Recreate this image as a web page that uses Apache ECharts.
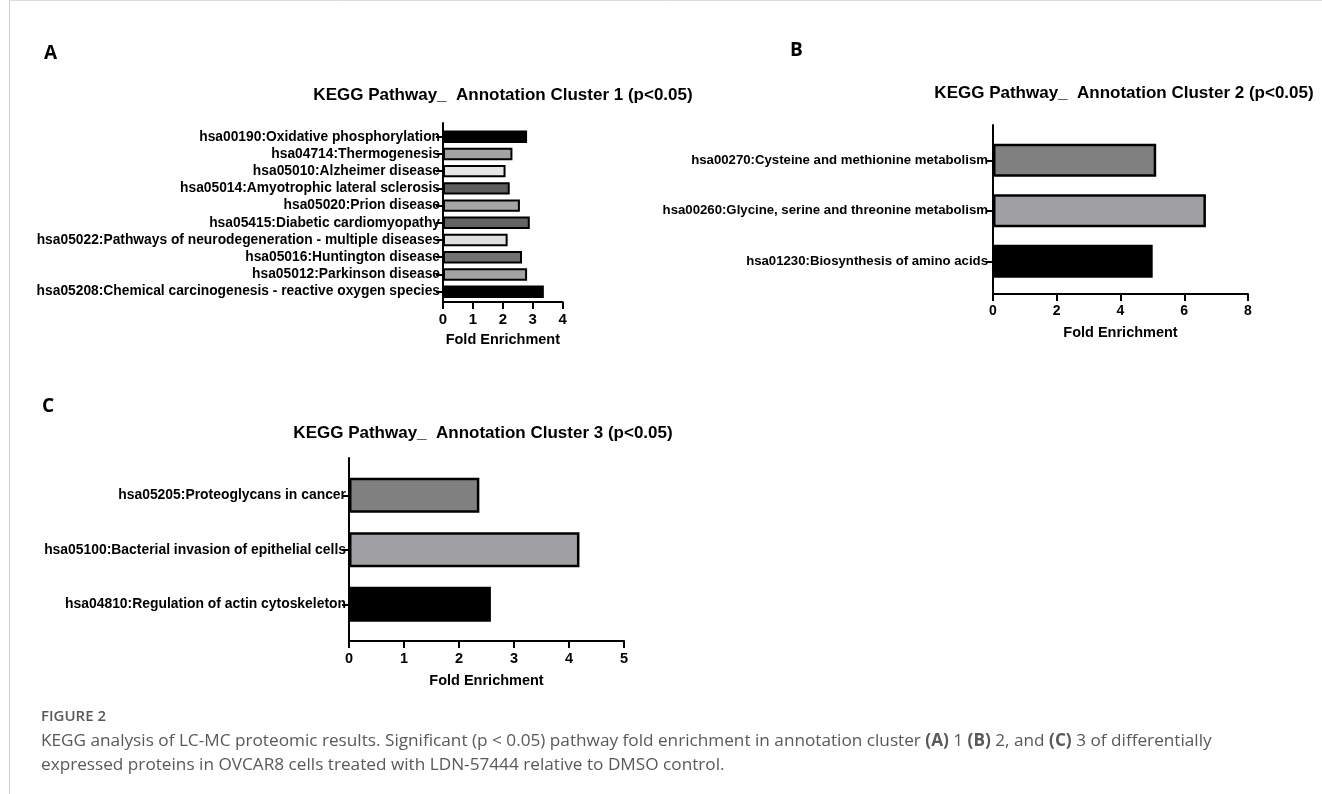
<!DOCTYPE html>
<html><head><meta charset="utf-8">
<script src="https://cdn.jsdelivr.net/npm/echarts@6/dist/echarts.min.js"></script>
<style>html,body{margin:0;padding:0;background:#fff}#c{width:1322px;height:794px}</style>
</head><body><div id="c"></div>
<script>
// ---- data ----
const catsA = ['hsa00190:Oxidative phosphorylation', 'hsa04714:Thermogenesis', 'hsa05010:Alzheimer disease', 'hsa05014:Amyotrophic lateral sclerosis', 'hsa05020:Prion disease', 'hsa05415:Diabetic cardiomyopathy', 'hsa05022:Pathways of neurodegeneration - multiple diseases', 'hsa05016:Huntington disease', 'hsa05012:Parkinson disease', 'hsa05208:Chemical carcinogenesis - reactive oxygen species'];
const valsA = [2.81, 2.32, 2.09, 2.23, 2.57, 2.90, 2.16, 2.64, 2.81, 3.37];
const catsB = ['hsa00270:Cysteine and methionine metabolism', 'hsa00260:Glycine, serine and threonine metabolism', 'hsa01230:Biosynthesis of amino acids'];
const valsB = [5.12, 6.68, 5.01];
const catsC = ['hsa05205:Proteoglycans in cancer', 'hsa05100:Bacterial invasion of epithelial cells', 'hsa04810:Regulation of actin cytoskeleton'];
const valsC = [2.37, 4.19, 2.58];
const ticksA = [0, 1, 2, 3, 4];
const ticksB = [0, 2, 4, 6, 8];
const ticksC = [0, 1, 2, 3, 4, 5];
const titles = ['KEGG Pathway_  Annotation Cluster 1 (p<0.05)', 'KEGG Pathway_  Annotation Cluster 2 (p<0.05)', 'KEGG Pathway_  Annotation Cluster 3 (p<0.05)'];
const axisName = 'Fold Enrichment';
// ---- styles ----
const fillsA = ['#000000', '#a3a3a3', '#e6e6e6', '#5e5e5e', '#a6a6a6', '#636363', '#e0e0e0', '#727272', '#a3a3a3', '#000000'];
const fillsB = ['#808080', '#a0a0a4', '#000000'];
const fillsC = ['#808080', '#a0a0a4', '#000000'];

const F = "'Liberation Sans', Arial, Helvetica, sans-serif";
const FO = "'Open Sans', 'Noto Sans', sans-serif";

const panels = [
  {cats: catsA, vals: valsA, ticks: ticksA, fills: fillsA, frame: {left: 443, top: 123, width: 119.7, height: 179}, bars: {top: 128.1, height: 172.2},
   gap: '28%', labSize: 13.8, tickSize: 15, bw: 2, nameGap: 30, labMargin: 3},
  {cats: catsB, vals: valsB, ticks: ticksB, fills: fillsB, frame: {left: 993, top: 125, width: 255, height: 169}, bars: {top: 135, height: 151.5},
   gap: '35%', labSize: 13.2, tickSize: 14, bw: 2.5, nameGap: 31, labMargin: 5},
  {cats: catsC, vals: valsC, ticks: ticksC, fills: fillsC, frame: {left: 349, top: 458, width: 275, height: 183}, bars: {top: 468, height: 163.5},
   gap: '36%', labSize: 13.9, tickSize: 14.5, bw: 2.5, nameGap: 32, labMargin: 3}
];

const grid = [], xAxis = [], yAxis = [], series = [];
const line = {show: true, onZero: false, lineStyle: {color: '#000', width: 2}};
panels.forEach((p, i) => {
  const mn = p.ticks[0], mx = p.ticks[p.ticks.length - 1], iv = p.ticks[1] - p.ticks[0];
  grid.push({left: p.frame.left, top: p.frame.top, width: p.frame.width, height: p.frame.height, containLabel: false});
  grid.push({left: p.frame.left, top: p.bars.top, width: p.frame.width, height: p.bars.height, containLabel: false});
  const g0 = i * 2, g1 = i * 2 + 1;
  xAxis.push({type: 'value', gridIndex: g0, min: mn, max: mx, interval: iv, axisLine: line,
    axisTick: {show: true, length: 7, lineStyle: {color: '#000', width: 2}},
    axisLabel: {color: '#000', fontFamily: F, fontWeight: 'bold', fontSize: p.tickSize, margin: 10},
    splitLine: {show: false}, name: axisName, nameLocation: 'middle', nameGap: p.nameGap,
    nameTextStyle: {color: '#000', fontFamily: F, fontWeight: 'bold', fontSize: 14.5}});
  xAxis.push({type: 'value', gridIndex: g1, min: mn, max: mx, show: false});
  yAxis.push({type: 'value', gridIndex: g0, min: 0, max: 1, axisLine: line, axisTick: {show: false}, axisLabel: {show: false}, splitLine: {show: false}});
  yAxis.push({type: 'category', gridIndex: g1, data: p.cats, inverse: true, axisLine: {show: false},
    axisTick: {show: true, alignWithLabel: true, interval: 0, length: 7, lineStyle: {color: '#000', width: 2}},
    axisLabel: {interval: 0, color: '#000', fontFamily: F, fontWeight: 'bold', fontSize: p.labSize, margin: p.labMargin}});
  series.push({type: 'bar', xAxisIndex: g1, yAxisIndex: g1, data: p.vals, barCategoryGap: p.gap,
    itemStyle: {color: (d) => p.fills[d.dataIndex], borderColor: '#000', borderWidth: p.bw}});
});

const titleCenters = [[503, 95], [1124, 93], [483, 433]];
const graphic = [
  {type: 'line', shape: {x1: 9.5, y1: 0, x2: 9.5, y2: 794}, style: {stroke: '#cfcfcf', lineWidth: 1}},
  {type: 'line', shape: {x1: 9.5, y1: 0.5, x2: 1322, y2: 0.5}, style: {stroke: '#dcdcdc', lineWidth: 1}},
  {type: 'text', x: 44, y: 54, style: {text: 'A', font: 'bold 19px ' + FO, fill: '#000', textVerticalAlign: 'middle'}},
  {type: 'text', x: 790, y: 51, style: {text: 'B', font: 'bold 19px ' + FO, fill: '#000', textVerticalAlign: 'middle'}},
  {type: 'text', x: 42, y: 406.5, style: {text: 'C', font: 'bold 19px ' + FO, fill: '#000', textVerticalAlign: 'middle'}},
  {type: 'text', x: 41, y: 717, style: {text: 'FIGURE 2', font: '600 15px ' + FO, fill: '#595959', textVerticalAlign: 'middle'}},
  {type: 'text', x: 41, y: 741, style: {text: 'KEGG analysis of LC-MC proteomic results. Significant (p < 0.05) pathway fold enrichment in annotation cluster {b|(A)} 1 {b|(B)} 2, and {b|(C)} 3 of differentially',
    font: '17.2px ' + FO, fill: '#595959', textVerticalAlign: 'middle', rich: {b: {fontWeight: 'bold', fontFamily: FO, fontSize: 17.2, fill: '#595959'}}}},
  {type: 'text', x: 41, y: 765, style: {text: 'expressed proteins in OVCAR8 cells treated with LDN-57444 relative to DMSO control.', font: '17.2px ' + FO, fill: '#595959', textVerticalAlign: 'middle'}}
];
titles.forEach((t, i) => graphic.push({type: 'text', x: titleCenters[i][0], y: titleCenters[i][1],
  style: {text: t, font: 'bold 17px ' + F, fill: '#000', textAlign: 'center', textVerticalAlign: 'middle'}}));

const chart = echarts.init(document.getElementById('c'), null, {renderer: 'canvas'});
chart.setOption({backgroundColor: '#fff', animation: false, grid, xAxis, yAxis, series, graphic});
</script></body></html>
